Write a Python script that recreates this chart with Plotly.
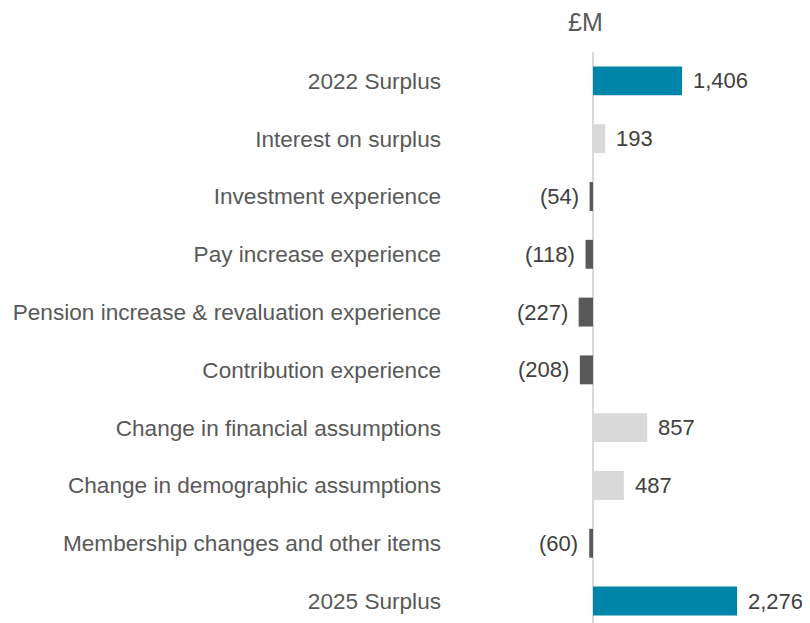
import plotly.graph_objects as go

categories = [
    "2022 Surplus",
    "Interest on surplus",
    "Investment experience",
    "Pay increase experience",
    "Pension increase & revaluation experience",
    "Contribution experience",
    "Change in financial assumptions",
    "Change in demographic assumptions",
    "Membership changes and other items",
    "2025 Surplus",
]
values = [1406, 193, -54, -118, -227, -208, 857, 487, -60, 2276]
kinds = ["total", "pos", "neg", "neg", "neg", "neg", "pos", "pos", "neg", "total"]
unit_label = "£M"

color_map = {"total": "#0085AA", "pos": "#D9D9D9", "neg": "#595959"}
colors = [color_map[k] for k in kinds]

def fmt(v):
    return f"({abs(v):,})" if v < 0 else f"{v:,}"

FONT = "Liberation Sans, Arial, sans-serif"

fig = go.Figure(go.Bar(
    y=categories,
    x=values,
    orientation="h",
    marker=dict(color=colors, line=dict(width=0)),
    width=0.5,
    hoverinfo="skip",
))

for c, v in zip(categories, values):
    fig.add_annotation(
        x=v, y=c, xref="x", yref="y",
        text=fmt(v), showarrow=False,
        xanchor="left" if v >= 0 else "right",
        xshift=9 if v >= 0 else -9,
        yanchor="middle",
        font=dict(family=FONT, size=22, color="#404040"),
    )

fig.add_annotation(
    x=0, y=1, xref="x", yref="paper",
    text=unit_label, showarrow=False,
    xanchor="center", yanchor="bottom", xshift=-8, yshift=14,
    font=dict(family=FONT, size=25, color="#595959"),
)

fig.update_layout(
    width=802, height=615,
    margin=dict(l=444, r=0, t=44, b=0),
    paper_bgcolor="white", plot_bgcolor="white",
    showlegend=False,
    font=dict(family=FONT, size=22, color="#595959"),
    xaxis=dict(
        range=[-2228, 3428],
        showgrid=False, showticklabels=False, ticks="",
        zeroline=True, zerolinecolor="#D9D9D9", zerolinewidth=1.5,
        fixedrange=True,
    ),
    yaxis=dict(
        range=[9.38, -0.5],
        showgrid=False, ticks="", zeroline=False,
        tickfont=dict(family=FONT, size=22.6, color="#595959"),
        ticklabelstandoff=10,
        fixedrange=True,
    ),
)

fig.write_html("out.html")
